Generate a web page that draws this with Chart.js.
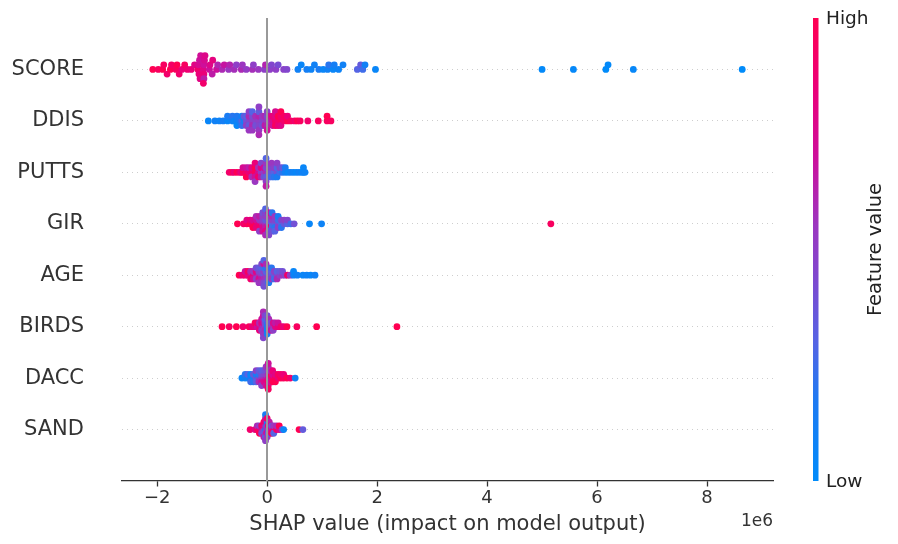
<!DOCTYPE html>
<html><head><meta charset="utf-8">
<script src="https://cdn.jsdelivr.net/npm/chart.js@4.4.1/dist/chart.umd.min.js"></script>
<style>html,body{margin:0;padding:0;background:#fff;}canvas{display:block;}</style>
</head><body>
<canvas id="c" width="898" height="544" style="width:898px;height:544px"></canvas>
<script>
// ---- data (SHAP values in units of 1e6, feature values normalised 0=low..1=high) ----
const features = ['SCORE','DDIS','PUTTS','GIR','AGE','BIRDS','DACC','SAND'];
const xTicks = [-2,0,2,4,6,8];
const xTickLabels = ['\u22122','0','2','4','6','8'];
const colorbarLabels = ['Low','High'];

const scoreShap = [-2.08,-1.98,-1.90,-1.88,-1.82,-1.76,-1.74,-1.66,-1.64,-1.60,-1.55,-1.50,-1.45,-1.38,-1.32,
 -1.26,-1.25,-1.24,-1.23,-1.22,-1.21,
 -1.16,-1.15,-1.15,-1.14,-1.15,-1.13,-1.16,
 -1.05,-1.04,-1.00,-0.99,
 -0.92,-0.90,-0.82,-0.78,-0.70,-0.68,-0.60,-0.56,-0.47,-0.45,-0.38,-0.27,-0.25,-0.16,-0.05,-0.03,
 0.05,0.08,0.16,0.20,0.30,0.36,
 0.56,0.62,0.72,0.80,0.86,0.94,1.02,1.10,1.12,1.20,1.22,1.30,1.38,
 1.64,1.70,1.74,1.78,1.97,
 5.00,5.57,6.16,6.20,6.66,8.64];
const scoreFeat = [1.0,0.95,1.0,0.95,0.9,1.0,0.92,0.95,1.0,0.9,0.85,0.95,0.88,0.85,0.8,
 0.9,0.75,0.85,0.7,0.8,0.72,
 0.8,0.7,0.85,0.75,0.65,0.78,0.9,
 0.7,0.78,0.65,0.82,
 0.7,0.62,0.6,0.68,0.55,0.62,0.58,0.5,0.6,0.55,0.52,0.58,0.5,0.55,0.5,0.62,
 0.5,0.45,0.5,0.42,0.48,0.45,
 0.1,0.05,0.12,0.08,0.1,0.15,0.05,0.1,0.2,0.05,0.12,0.08,0.1,
 0.3,0.35,0.25,0.1,0.05,
 0.02,0.03,0.0,0.02,0.04,0.0];

const ddisShap = [-1.07,-0.95,-0.87,-0.80,-0.72,-0.72,-0.63,-0.63,-0.60,-0.55,-0.55,-0.55,-0.50,-0.46,-0.46,-0.46,-0.42,-0.42,
 -0.38,-0.38,-0.38,-0.33,-0.33,-0.33,-0.33,-0.33,-0.27,-0.27,-0.27,-0.27,-0.27,-0.21,-0.21,-0.21,
 -0.15,-0.15,-0.15,-0.15,-0.15,-0.15,-0.15,-0.09,-0.09,-0.09,-0.04,-0.04,-0.04,
 0.00,0.00,0.00,0.00,0.00,0.05,0.05,
 0.10,0.10,0.10,0.15,0.15,0.15,0.15,0.20,0.20,0.20,0.25,0.25,0.25,0.25,0.31,0.31,0.37,0.37,
 0.43,0.50,0.55,0.60,0.74,0.93,1.09,1.09,1.16];
const ddisFeat = [0.05,0.1,0.08,0.12,0.05,0.15,0.1,0.2,0.08,0.1,0.18,0.05,0.15,0.3,0.1,0.22,0.12,0.35,
 0.4,0.3,0.5,0.45,0.6,0.35,0.5,0.55,0.5,0.42,0.6,0.3,0.55,0.48,0.58,0.4,
 0.5,0.62,0.45,0.35,0.55,0.5,0.6,0.45,0.55,0.4,0.5,0.6,0.65,
 0.55,0.45,0.62,0.5,0.7,0.6,0.7,
 0.75,0.85,0.7,0.9,0.8,0.95,0.75,0.9,1.0,0.85,0.95,0.9,0.8,1.0,0.9,0.95,1.0,0.85,
 0.95,0.9,1.0,0.95,0.9,0.95,0.95,1.0,0.95];

const puttsShap = [-0.69,-0.64,-0.60,-0.55,-0.50,-0.47,-0.44,-0.44,-0.38,-0.38,-0.38,-0.33,-0.33,-0.28,-0.28,-0.28,
 -0.22,-0.22,-0.22,-0.22,-0.22,-0.16,-0.16,-0.16,-0.11,-0.11,-0.11,-0.11,-0.06,-0.06,-0.06,
 -0.02,-0.02,-0.02,-0.02,-0.02,-0.02,-0.02,0.03,0.03,0.03,0.08,0.08,0.08,0.08,0.13,0.13,0.13,
 0.18,0.18,0.18,0.18,0.23,0.23,0.28,0.28,0.33,0.33,0.38,0.43,0.48,0.53,0.58,0.63,0.66,0.66,0.69];
const puttsFeat = [0.9,0.95,0.85,1.0,0.9,0.8,0.95,0.75,0.9,0.7,1.0,0.85,0.65,0.9,0.8,0.6,
 0.95,1.0,0.7,0.85,0.55,0.75,0.6,0.9,0.55,0.8,0.65,0.45,0.5,0.7,0.4,
 0.6,0.45,0.35,0.55,0.5,0.3,0.65,0.4,0.5,0.3,0.35,0.45,0.25,0.55,0.3,0.5,0.2,
 0.4,0.3,0.15,0.5,0.25,0.45,0.2,0.35,0.1,0.15,0.05,0.1,0.08,0.05,0.1,0.05,0.1,0.05,0.08];

const girShap = [-0.54,-0.43,-0.37,-0.37,-0.31,-0.31,-0.26,-0.26,-0.26,-0.20,-0.20,-0.20,-0.20,
 -0.14,-0.14,-0.14,-0.14,-0.14,-0.08,-0.08,-0.08,-0.08,-0.08,-0.08,
 -0.03,-0.03,-0.03,-0.03,-0.03,-0.03,-0.03,-0.03,0.03,0.03,0.03,0.03,0.03,0.03,0.03,
 0.09,0.09,0.09,0.09,0.09,0.09,0.14,0.14,0.14,0.14,0.14,0.20,0.20,0.20,0.20,
 0.26,0.26,0.26,0.31,0.31,0.37,0.37,0.43,0.49,0.77,0.99,5.16];
const girFeat = [1.0,0.9,0.95,0.8,1.0,0.85,0.9,0.75,1.0,0.95,0.7,0.85,0.6,
 0.8,0.55,0.9,0.65,0.5,0.6,0.45,0.75,0.5,0.7,0.4,
 0.55,0.35,0.65,0.5,0.8,0.45,0.6,0.3,0.5,0.4,0.9,0.55,0.35,0.7,0.45,
 0.3,0.5,0.25,0.6,0.4,0.2,0.35,0.45,0.2,0.55,0.3,0.4,0.25,0.5,0.15,
 0.3,0.45,0.2,0.35,0.5,0.3,0.45,0.25,0.4,0.05,0.08,0.95];

const ageShap = [-0.51,-0.45,-0.40,-0.40,-0.35,-0.35,-0.30,-0.30,-0.30,-0.25,-0.25,-0.25,-0.20,-0.20,-0.20,-0.20,
 -0.15,-0.15,-0.15,-0.15,-0.15,-0.10,-0.10,-0.10,-0.10,-0.10,-0.10,
 -0.06,-0.06,-0.06,-0.06,-0.06,-0.06,-0.06,-0.06,-0.02,-0.02,-0.02,-0.02,-0.02,-0.02,
 0.03,0.03,0.03,0.03,0.03,0.08,0.08,0.08,0.08,0.13,0.13,0.13,0.18,0.18,0.18,0.23,0.23,0.28,0.28,
 0.33,0.37,0.42,0.48,0.48,0.55,0.65,0.72,0.79,0.87];
const ageFeat = [1.0,0.85,0.9,0.7,0.8,0.95,0.75,0.6,0.9,0.85,0.55,0.7,0.65,0.8,0.5,0.4,
 0.6,0.45,0.75,0.35,0.55,0.5,0.4,0.65,0.3,0.55,0.45,
 0.35,0.5,0.6,0.25,0.45,0.7,0.4,0.3,0.45,0.3,0.55,0.2,0.4,0.6,
 0.35,0.5,0.25,0.45,0.15,0.4,0.3,0.55,0.2,0.35,0.5,0.25,0.45,0.3,0.6,0.5,0.35,0.55,0.4,
 0.45,0.9,0.5,0.1,0.05,0.1,0.05,0.08,0.05,0.1];

const birdsShap = [-0.82,-0.69,-0.56,-0.44,-0.33,-0.27,-0.22,-0.22,-0.18,-0.18,-0.14,-0.14,-0.14,
 -0.10,-0.10,-0.10,-0.10,-0.07,-0.07,-0.07,-0.07,-0.07,-0.07,-0.07,-0.07,
 -0.04,-0.04,-0.04,-0.04,-0.04,-0.04,0.00,0.00,0.00,0.00,0.00,0.00,
 0.03,0.03,0.03,0.03,0.07,0.07,0.07,0.11,0.11,0.11,0.15,0.15,0.20,0.20,
 0.25,0.30,0.36,0.54,0.90,2.36];
const birdsFeat = [1.0,0.95,1.0,0.9,0.95,0.85,0.8,0.95,0.7,0.9,0.75,0.6,0.85,
 0.65,0.8,0.55,0.7,0.6,0.75,0.5,0.65,0.55,0.7,0.45,0.6,
 0.5,0.4,0.6,0.3,0.55,0.45,0.1,0.2,0.05,0.3,0.15,0.4,
 0.35,0.5,0.2,0.6,0.55,0.4,0.7,0.6,0.75,0.5,0.8,0.65,0.85,0.7,
 0.9,0.85,1.0,0.95,1.0,1.0];

const daccShap = [-0.46,-0.40,-0.40,-0.35,-0.35,-0.30,-0.30,-0.30,-0.25,-0.25,-0.25,-0.20,-0.20,-0.20,-0.20,
 -0.15,-0.15,-0.15,-0.15,-0.10,-0.10,-0.10,-0.10,-0.10,-0.06,-0.06,-0.06,-0.06,
 -0.02,-0.02,-0.02,-0.02,-0.02,-0.02,0.02,0.02,0.02,0.02,0.02,0.02,0.02,0.02,
 0.06,0.06,0.06,0.06,0.10,0.10,0.10,0.10,0.15,0.15,0.15,0.20,0.20,0.25,0.25,0.30,0.30,0.36,0.42,0.51];
const daccFeat = [0.05,0.1,0.2,0.08,0.3,0.15,0.05,0.25,0.1,0.35,0.2,0.4,0.15,0.3,0.5,
 0.45,0.2,0.6,0.35,0.55,0.4,0.7,0.3,0.5,0.6,0.45,0.75,0.35,
 0.65,0.5,0.8,0.4,0.7,0.55,0.75,0.6,0.9,0.5,0.85,0.65,0.95,0.7,
 0.8,0.95,0.7,0.6,0.9,0.75,1.0,0.85,0.95,0.8,1.0,0.85,0.95,1.0,0.9,0.95,0.85,1.0,0.9,0.1];

const sandShap = [-0.31,-0.22,-0.18,-0.18,-0.14,-0.14,-0.14,-0.10,-0.10,-0.10,-0.06,-0.06,-0.06,-0.06,-0.06,
 -0.03,-0.03,-0.03,-0.03,-0.03,-0.03,-0.03,-0.03,-0.01,-0.01,-0.01,0.00,0.00,0.00,0.00,0.00,0.00,
 0.02,0.02,0.02,0.04,0.04,0.04,0.04,0.06,0.06,0.08,0.08,0.08,0.12,0.12,0.12,0.17,0.17,0.22,0.22,
 0.27,0.30,0.58,0.65];
const sandFeat = [0.9,0.8,0.95,0.6,0.85,0.5,1.0,0.7,0.9,0.45,0.55,0.8,0.35,0.95,0.65,
 0.1,0.6,0.45,0.85,0.3,0.7,0.5,0.15,0.5,0.25,0.7,0.6,0.4,0.75,0.2,0.55,0.9,
 0.45,0.85,0.35,0.5,0.8,0.3,0.65,0.6,0.9,0.7,0.4,0.95,0.85,0.55,0.3,0.9,0.6,0.75,1.0,
 0.5,0.05,1.0,0.35];

const shapRows = [scoreShap, ddisShap, puttsShap, girShap, ageShap, birdsShap, daccShap, sandShap];
const featRows = [scoreFeat, ddisFeat, puttsFeat, girFeat, ageFeat, birdsFeat, daccFeat, sandFeat];

// ---- colour map (blue -> purple -> red) ----
const cmapStops = [[0,[0,139,250]],[0.175,[30,122,242]],[0.3,[85,100,228]],[0.45,[130,70,205]],
  [0.55,[155,55,192]],[0.7,[205,15,155]],[0.85,[235,0,120]],[1,[255,0,82]]];
function cmap(t){
  t = Math.max(0, Math.min(1, t));
  for (let i = 1; i < cmapStops.length; i++){
    const [t1,c1] = cmapStops[i], [t0,c0] = cmapStops[i-1];
    if (t <= t1){
      const f = (t - t0)/(t1 - t0);
      const c = c0.map((v,k)=>Math.round(v + (c1[k]-v)*f));
      return `rgb(${c[0]},${c[1]},${c[2]})`;
    }
  }
  return 'rgb(255,0,82)';
}

// ---- beeswarm layout (same binning rule as shap's summary plot) ----
function swarm(shaps, rowHeight){
  const nbins = 100, N = shaps.length;
  const mn = Math.min(...shaps), mx = Math.max(...shaps);
  const quant = shaps.map(v => Math.round(nbins*(v-mn)/(mx-mn+1e-8)));
  const inds = shaps.map((_,i)=>i).sort((a,b)=>(quant[a]-quant[b]) || (a-b));
  const ys = new Array(N).fill(0);
  let layer = 0, last = -1;
  for (const i of inds){
    if (quant[i] !== last) layer = 0;
    ys[i] = Math.ceil(layer/2) * ((layer % 2) * 2 - 1);
    layer++; last = quant[i];
  }
  const m = Math.max(...ys.map(y=>y+1));
  return ys.map(y => y * 0.9 * (rowHeight / m));
}

const nRows = features.length;
const datasets = [];
for (let f = nRows-1; f >= 0; f--){
  const row = nRows-1-f;
  const ys = swarm(shapRows[f], 0.4);
  datasets.push({
    label: features[f],
    data: shapRows[f].map((v,i)=>({x:v, y:row+ys[i]})),
    pointBackgroundColor: featRows[f].map(cmap),
    pointBorderWidth: 0,
    pointRadius: 3.4,
    pointHoverRadius: 3.4,
    showLine: false
  });
}

const FONT = "'DejaVu Sans', 'Liberation Sans', sans-serif";

const decor = {
  id: 'decor',
  afterDatasetsDraw(chart){
    const {ctx, chartArea:a, scales:{x}} = chart;
    const px = Math.round(x.getPixelForValue(0));
    ctx.save();
    ctx.strokeStyle = '#999999';
    ctx.lineWidth = 2;
    ctx.beginPath(); ctx.moveTo(px, a.top); ctx.lineTo(px, a.bottom); ctx.stroke();
    ctx.restore();
  },
  afterDraw(chart){
    const {ctx, chartArea:a} = chart;
    ctx.save();
    // colour bar
    const bx = 813, bw = 5.5;
    const g = ctx.createLinearGradient(0, a.bottom, 0, a.top);
    cmapStops.forEach(([t]) => g.addColorStop(t, cmap(t)));
    ctx.fillStyle = g;
    ctx.fillRect(bx, a.top, bw, a.bottom - a.top);
    ctx.fillStyle = '#222';
    ctx.font = `18.5px ${FONT}`;
    ctx.textAlign = 'left'; ctx.textBaseline = 'middle';
    ctx.fillText(colorbarLabels[1], 826, a.top + 1);
    ctx.fillText(colorbarLabels[0], 826, a.bottom + 1);
    ctx.font = `19.5px ${FONT}`;
    ctx.translate(876, (a.top + a.bottom)/2);
    ctx.rotate(-Math.PI/2);
    ctx.textAlign = 'center';
    ctx.fillText('Feature value', 0, 0);
    ctx.restore();
    // offset text
    ctx.save();
    ctx.fillStyle = '#333';
    ctx.font = `17px ${FONT}`;
    ctx.textAlign = 'right'; ctx.textBaseline = 'middle';
    ctx.fillText('1e6', a.right, 522);
    ctx.restore();
  }
};

new Chart(document.getElementById('c'), {
  type: 'scatter',
  data: { datasets },
  options: {
    responsive: false,
    animation: false,
    devicePixelRatio: 1,
    layout: { padding: { left: 0, top: 18, right: 125, bottom: 0 } },
    plugins: { legend: { display: false }, tooltip: { enabled: false } },
    scales: {
      x: {
        type: 'linear', min: -2.64, max: 9.2, bounds: 'data',
        afterBuildTicks: s => { s.ticks = xTicks.map(v => ({ value: v })); },
        afterFit: s => { s.height = 63; },
        ticks: {
          callback: v => xTickLabels[xTicks.indexOf(v)],
          font: { family: FONT, size: 18 }, color: '#333', padding: 1, maxRotation: 0
        },
        grid: { display: true, drawOnChartArea: false, drawTicks: true, tickLength: 5.5,
                tickColor: '#333', tickWidth: 1.3, color: '#333' },
        border: { display: true, color: '#333', width: 1.3 },
        title: { display: true, text: 'SHAP value (impact on model output)',
                 font: { family: FONT, size: 21, lineHeight: 1.2 }, color: '#333',
                 padding: { top: 0, bottom: 7 } }
      },
      y: {
        type: 'linear', min: -1, max: 8, bounds: 'data',
        afterBuildTicks: s => { s.ticks = features.map((_, i) => ({ value: i })); },
        afterFit: s => { s.width = 122; s.paddingTop = 0; s.paddingBottom = 0; },
        ticks: {
          callback: v => features[nRows - 1 - v],
          font: { family: FONT, size: 21 }, color: '#333', padding: 38
        },
        grid: { color: '#c8c8c8', lineWidth: 0.9, drawTicks: false },
        border: { display: false, dash: [1, 4] }
      }
    }
  },
  plugins: [decor]
});
</script>
</body></html>
